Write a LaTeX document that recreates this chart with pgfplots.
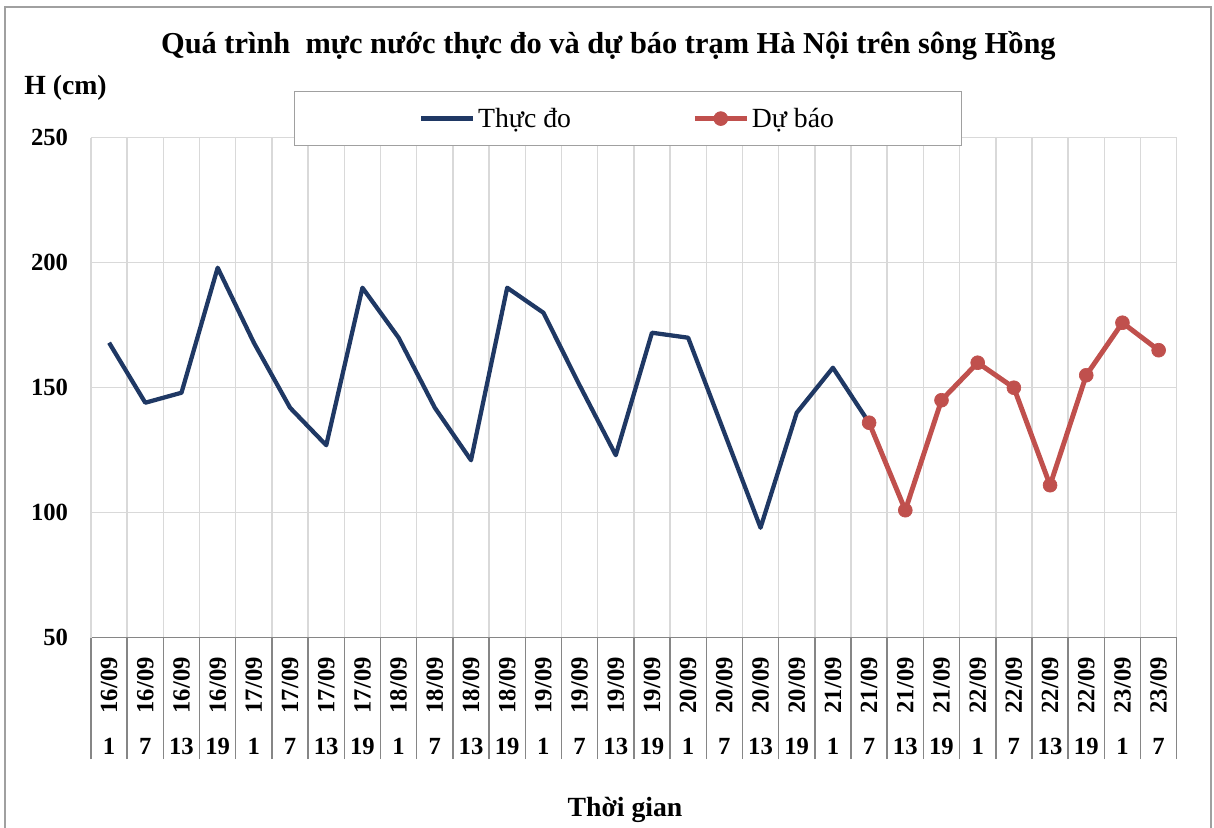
\documentclass[border=0pt]{standalone}
\usepackage{fontspec}
\setmainfont{Liberation Serif}
\usepackage{graphicx}
\usepackage{pgfplots}
\pgfplotsset{compat=1.18}
\definecolor{obs}{RGB}{31,56,100}
\definecolor{fc}{RGB}{192,80,77}
\definecolor{gridc}{RGB}{217,217,217}
\definecolor{axc}{RGB}{134,134,134}
\definecolor{framec}{RGB}{160,160,160}
\newcommand\tickfont{\fontsize{18.5}{22}\selectfont\bfseries}
\newcommand\bigfont{\fontsize{20.8}{25}\selectfont}
\newcommand\XL[2]{\rotatebox{90}{#1}\\[9pt]#2}
\pgfplotsset{
  obsleg/.style={legend image code/.code={\draw[##1] (0pt,0pt) -- (39pt,0pt);}},
  fcleg/.style={legend image code/.code={\draw[mark repeat=2, mark phase=2, ##1] plot coordinates {(0pt,0pt) (19.5pt,0pt) (39pt,0pt)};}},
}
\begin{document}
\begin{tikzpicture}
\useasboundingbox (0,0) rectangle (910.5pt,621pt);
\draw[framec, line width=1.5pt] (4.1pt,0pt) -- (4.1pt,616.1pt) -- (908.3pt,616.1pt) -- (908.3pt,0pt);
\begin{axis}[
  at={(68.25pt,142.7pt)}, anchor=south west,
  scale only axis, width=814.3pt, height=375pt,
  xmin=0, xmax=30, ymin=50, ymax=250,
  axis x line*=bottom, axis y line*=left,
  x axis line style={-, draw=axc, line width=1.1pt},
  y axis line style={-, draw=gridc, line width=1.1pt},
  ytick={50,100,150,200,250},
  xtick={0.5,1.5,...,29.5},
  xticklabels={{\XL{16/09}{1}},{\XL{16/09}{7}},{\XL{16/09}{13}},{\XL{16/09}{19}},
               {\XL{17/09}{1}},{\XL{17/09}{7}},{\XL{17/09}{13}},{\XL{17/09}{19}},
               {\XL{18/09}{1}},{\XL{18/09}{7}},{\XL{18/09}{13}},{\XL{18/09}{19}},
               {\XL{19/09}{1}},{\XL{19/09}{7}},{\XL{19/09}{13}},{\XL{19/09}{19}},
               {\XL{20/09}{1}},{\XL{20/09}{7}},{\XL{20/09}{13}},{\XL{20/09}{19}},
               {\XL{21/09}{1}},{\XL{21/09}{7}},{\XL{21/09}{13}},{\XL{21/09}{19}},
               {\XL{22/09}{1}},{\XL{22/09}{7}},{\XL{22/09}{13}},{\XL{22/09}{19}},
               {\XL{23/09}{1}},{\XL{23/09}{7}}},
  extra x ticks={0,1,...,30},
  extra x tick labels={},
  extra x tick style={grid=none, major tick length=91pt,
     major tick style={draw=axc, line width=1.1pt}},
  minor xtick={0,1,...,30},
  xmajorgrids=false, xminorgrids=true, ymajorgrids=true,
  major grid style={draw=gridc, line width=1.1pt},
  minor grid style={draw=gridc, line width=1.1pt},
  tick align=outside,
  major tick length=0pt,
  minor tick length=0pt,
  ytick style={draw=none},
  /pgf/number format/assume math mode=true,
  ticklabel style={font=\tickfont},
  yticklabel style={anchor=east, inner sep=0pt, xshift=-17pt},
  xticklabel style={anchor=north, inner sep=0pt, yshift=-14.5pt, align=center},
  legend columns=-1,
  legend style={at={(0.187,1.0934)}, anchor=north west, draw=framec, line width=0.8pt,
    fill=white, font=\bigfont, inner xsep=93.5pt, inner ysep=10.3pt,
    /tikz/every even column/.append style={column sep=89pt}},
]
\addplot[obs, line width=3.2pt, line join=round, obsleg]
  coordinates {
  (0.5,168) (1.5,144) (2.5,148) (3.5,198) (4.5,168) (5.5,142) (6.5,127) (7.5,190)
  (8.5,170) (9.5,142) (10.5,121) (11.5,190) (12.5,180) (13.5,151) (14.5,123)
  (15.5,172) (16.5,170) (17.5,132) (18.5,94) (19.5,140) (20.5,158) (21.5,136)};
\addlegendentry{Thực đo}
\addplot[fc, line width=3.7pt, line join=round, mark=*, mark size=5.2pt,
  mark options={fill=fc, draw=fc, line width=0.5pt}, fcleg]
  coordinates {
  (21.5,136) (22.5,101) (23.5,145) (24.5,160) (25.5,150) (26.5,111) (27.5,155)
  (28.5,176) (29.5,165)};
\addlegendentry{Dự báo}
\end{axis}
\node[anchor=base, font=\fontsize{22.8}{27}\selectfont\bfseries] at (456.3pt,581pt) {Quá trình\ \ mực nước thực đo và dự báo trạm Hà Nội trên sông Hồng};
\node[anchor=base west, font=\bigfont\bfseries, inner sep=0pt] at (18pt,549.75pt) {H (cm)};
\node[anchor=base, font=\bigfont\bfseries] at (468.75pt,8.5pt) {Thời gian};
\end{tikzpicture}
\end{document}
